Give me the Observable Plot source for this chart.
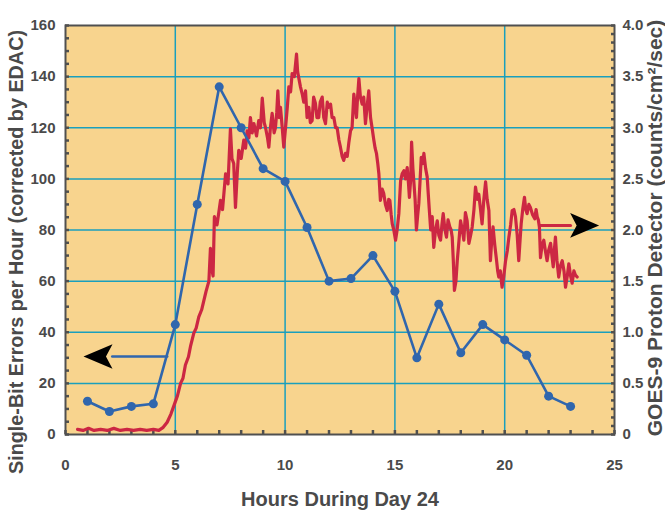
<!DOCTYPE html>
<html>
<head>
<meta charset="utf-8">
<script src="https://cdn.jsdelivr.net/npm/d3@7"></script>
<script src="https://cdn.jsdelivr.net/npm/@observablehq/plot@0.6"></script>
<style>
  html, body { margin: 0; padding: 0; background: #ffffff; }
  #chart svg { display: block; }
</style>
</head>
<body>
<div id="chart"></div>
<script>
// Hourly single-bit error counts (left axis)
const hours = [1, 2, 3, 4, 5, 6, 7, 8, 9, 10, 11, 12, 13, 14, 15, 16, 17, 18, 19, 20, 21, 22, 23];
const errors = [13, 9, 11, 12, 43, 90, 136, 120, 104, 99, 81, 60, 61, 70, 56, 30, 51, 32, 43, 37, 31, 15, 11];

// GOES-9 proton flux (right axis, counts/cm²/sec)
const protonTime = [
  0.55, 0.8, 1.05, 1.3, 1.6, 1.9, 2.2, 2.5, 2.8, 3.1, 3.4, 3.7, 4.0, 4.25, 4.45, 4.63, 4.8, 4.95,
  5.1, 5.24, 5.35, 5.46, 5.6, 5.7, 5.84, 5.95, 6.07, 6.2, 6.3, 6.4, 6.53, 6.6, 6.66, 6.72, 6.78, 6.9,
  7.06, 7.15, 7.29, 7.4, 7.51, 7.58, 7.66, 7.74, 7.82, 7.89, 8.0, 8.12, 8.2, 8.27, 8.35, 8.42, 8.5,
  8.58, 8.7, 8.8, 8.88, 8.96, 9.05, 9.11, 9.2, 9.26, 9.33, 9.41, 9.5, 9.56, 9.62, 9.67, 9.73, 9.79,
  9.87, 9.94, 10.02, 10.1, 10.17, 10.25, 10.32, 10.42, 10.52, 10.57, 10.62, 10.7, 10.78, 10.85,
  10.93, 11.0, 11.08, 11.15, 11.23, 11.3, 11.38, 11.45, 11.53, 11.6, 11.69, 11.76, 11.84, 11.92,
  11.99, 12.07, 12.14, 12.22, 12.3, 12.37, 12.45, 12.52, 12.6, 12.67, 12.75, 12.83, 12.9, 12.98,
  13.05, 13.13, 13.2, 13.25, 13.3, 13.36, 13.43, 13.51, 13.58, 13.66, 13.73, 13.81, 13.89, 13.96,
  14.04, 14.1, 14.16, 14.22, 14.27, 14.34, 14.42, 14.49, 14.57, 14.65, 14.72, 14.77, 14.83, 14.88,
  14.95, 15.03, 15.1, 15.18, 15.26, 15.33, 15.41, 15.48, 15.56, 15.62, 15.66, 15.72, 15.76, 15.82,
  15.86, 15.92, 15.98, 16.04, 16.09, 16.15, 16.2, 16.27, 16.32, 16.4, 16.47, 16.52, 16.56, 16.63,
  16.7, 16.77, 16.85, 16.93, 17.0, 17.08, 17.14, 17.2, 17.28, 17.35, 17.42, 17.5, 17.56, 17.61,
  17.66, 17.71, 17.78, 17.84, 17.92, 17.99, 18.07, 18.14, 18.21, 18.29, 18.37, 18.45, 18.52, 18.6,
  18.67, 18.75, 18.82, 18.9, 18.97, 19.05, 19.13, 19.2, 19.28, 19.35, 19.41, 19.47, 19.55, 19.63,
  19.68, 19.73, 19.8, 19.88, 19.96, 20.04, 20.12, 20.19, 20.27, 20.34, 20.42, 20.49, 20.57, 20.64,
  20.7, 20.75, 20.82, 20.9, 20.96, 21.02, 21.1, 21.17, 21.27, 21.37, 21.43, 21.48, 21.53, 21.58,
  21.63, 21.7, 21.78, 21.85, 21.93, 22.0, 22.09, 22.15, 22.21, 22.26, 22.31, 22.38, 22.46, 22.54,
  22.62, 22.7, 22.77, 22.85, 22.92, 23.0, 23.07, 23.15, 23.22, 23.3
];
const protonFlux = [
  0.05, 0.04, 0.06, 0.04, 0.05, 0.04, 0.06, 0.04, 0.05, 0.04, 0.05, 0.04, 0.05, 0.04, 0.07, 0.12, 0.2, 0.29,
  0.38, 0.5, 0.55, 0.68, 0.76, 0.87, 0.99, 1.04, 1.15, 1.22, 1.31, 1.4, 1.5, 1.82, 1.62, 1.55, 2.13, 2.05,
  2.29, 2.2, 2.55, 2.45, 2.99, 2.7, 2.65, 2.22, 2.55, 2.78, 2.7, 2.88, 2.8, 2.97, 2.9, 3.1, 2.95,
  3.04, 2.92, 3.07, 3.0, 3.29, 3.05, 3.0, 2.9, 2.81, 3.0, 3.14, 2.95, 3.0, 3.15, 3.36, 3.1, 3.2,
  3.0, 2.81, 3.0, 3.2, 3.4, 3.35, 3.53, 3.5, 3.72, 3.55, 3.49, 3.4, 3.33, 3.25,
  3.36, 3.1, 3.2, 3.05, 3.07, 3.3, 3.24, 3.1, 3.1, 3.25, 3.3, 3.1, 3.04, 3.25,
  3.2, 3.23, 3.1, 3.1, 3.0, 3.0, 2.88, 2.81, 2.72, 2.68, 2.75, 2.72, 2.85, 2.97,
  3.0, 3.33, 3.2, 3.1, 3.3, 3.48, 3.3, 3.23, 3.3, 3.04, 3.2, 3.36, 3.1, 3.0,
  2.88, 2.8, 2.75, 2.65, 2.55, 2.29, 2.4, 2.36, 2.25, 2.19, 2.3, 2.29, 2.15, 2.06,
  2.0, 1.9, 2.0, 2.16, 2.48, 2.55, 2.58, 2.5, 2.61, 2.45, 2.32, 2.5, 2.86, 2.6,
  2.48, 2.3, 2.0, 2.15, 2.26, 2.5, 2.71, 2.65, 2.75, 2.6, 2.52, 2.35, 2.22, 2.0,
  2.13, 1.83, 2.0, 2.09, 1.95, 1.9, 2.05, 2.16, 2.0, 1.93, 2.1, 2.03, 2.0, 1.93,
  1.7, 1.41, 1.5, 1.7, 1.9, 2.09, 2.0, 1.9, 2.17, 2.09, 1.87, 1.95, 2.03, 2.2,
  2.42, 2.3, 2.35, 2.2, 2.06, 2.3, 2.47, 2.3, 2.19, 1.7, 1.9, 2.03, 1.85, 1.7,
  1.6, 1.54, 1.6, 1.44, 1.55, 1.7, 1.8, 1.93, 2.05, 2.19, 2.2, 2.13, 1.95, 1.7,
  1.9, 2.06, 2.2, 2.32, 2.2, 2.16, 2.25, 2.22, 2.15, 2.11, 2.2, 2.13, 2.1, 2.03,
  1.73, 1.85, 1.9, 1.8, 1.7, 1.8, 1.87, 1.75, 1.64, 1.8, 1.93, 1.7, 1.54, 1.65,
  1.7, 1.6, 1.44, 1.55, 1.67, 1.55, 1.48, 1.6, 1.56, 1.54
];

// Axis ticks
const xTicks = [0, 5, 10, 15, 20, 25];
const leftTicks = [0, 20, 40, 60, 80, 100, 120, 140, 160];
const rightTicks = [0, 0.5, 1.0, 1.5, 2.0, 2.5, 3.0, 3.5, 4.0];
const xGrid = [5, 10, 15, 20];
const yGrid = [20, 40, 60, 80, 100, 120, 140];

// Pointer arrows telling which axis each series belongs to
const leftArrowShaft = {x: [2.13, 4.63], errors: 30.5};
const leftArrowHead = {x: 1.48, errors: 30.5};
const rightArrowShaft = {x: [21.6, 23.0], flux: 2.045};
const rightArrowHead = {x: 23.64, flux: 2.045};

// Right scale is mapped onto the left one: 4.0 counts ⇔ 160 errors
const k = 160 / 4;

const axisColor = "#505050";
const textColor = "#4a4a4a";
const gridColor = "#1a9fbd";
const blue = "#3066ad";
const red = "#cc2743";

// A dart-shaped arrowhead pointing to +x
const dart = {
  draw(context, size) {
    const s = Math.sqrt(size / Math.PI);
    context.moveTo(s, 0);
    context.lineTo(-s, -0.85 * s);
    context.lineTo(-0.55 * s, 0);
    context.lineTo(-s, 0.85 * s);
    context.closePath();
  }
};

const fmtRight = d => (d === 0 ? "0" : d3.format(".1f")(d / k));

const chart = Plot.plot({
  width: 665,
  height: 514,
  marginLeft: 65,
  marginRight: 51,
  marginTop: 25,
  marginBottom: 80,
  style: {
    fontFamily: "'Liberation Sans Narrow', 'Arial Narrow', 'Liberation Sans', sans-serif",
    fontWeight: "bold",
    fontSize: "15px",
    color: textColor,
    background: "#ffffff",
    overflow: "hidden"
  },
  x: {domain: [0, 25]},
  y: {domain: [0, 160]},
  marks: [
    Plot.frame({fill: "#f8d48e", stroke: null}),
    Plot.ruleX(xGrid, {stroke: gridColor, strokeWidth: 1.5}),
    Plot.ruleY(yGrid, {stroke: gridColor, strokeWidth: 1.5}),

    // axes: labels
    Plot.axisX({ticks: xTicks, tickSize: 0, tickPadding: 25, tickFormat: d => String(d), label: null, fill: textColor}),
    Plot.axisY({anchor: "left", ticks: leftTicks, tickSize: 0, tickPadding: 10, tickFormat: d => String(d), label: null, fill: textColor}),
    Plot.axisY({anchor: "right", ticks: rightTicks.map(d => d * k), tickSize: 0, tickPadding: 8, tickFormat: fmtRight, label: null, fill: textColor}),

    // axes: inward minor ticks
    Plot.axisX({ticks: d3.range(0, 26, 1), tickSize: -4, text: null, label: null, stroke: axisColor, strokeWidth: 2.5}),
    Plot.axisY({anchor: "left", ticks: d3.range(0, 161, 5), tickSize: -4, text: null, label: null, stroke: axisColor, strokeWidth: 2.5}),
    Plot.axisY({anchor: "right", ticks: d3.range(0, 4.001, 1 / 12).map(d => d * k), tickSize: -4, text: null, label: null, stroke: axisColor, strokeWidth: 2.5}),

    Plot.frame({stroke: axisColor, strokeWidth: 2}),

    // proton flux
    Plot.line(protonFlux, {
      x: (d, i) => protonTime[i], y: d => d * k,
      stroke: red, strokeWidth: 3.2, strokeLinejoin: "round"
    }),

    // single-bit errors
    Plot.line(errors, {x: (d, i) => hours[i], y: d => d, stroke: blue, strokeWidth: 2.6}),
    Plot.dot(errors, {x: (d, i) => hours[i], y: d => d, fill: blue, r: 4.5, symbol: "circle"}),

    // arrows
    Plot.line(leftArrowShaft.x, {x: d => d, y: () => leftArrowShaft.errors, stroke: blue, strokeWidth: 2.6}),
    Plot.dot([leftArrowHead], {x: "x", y: "errors", symbol: dart, r: 14.5, fill: "black", rotate: 180}),
    Plot.line(rightArrowShaft.x, {x: d => d, y: () => rightArrowShaft.flux * k, stroke: red, strokeWidth: 3}),
    Plot.dot([rightArrowHead], {x: "x", y: d => d.flux * k, symbol: dart, r: 14.5, fill: "black"}),

    // axis titles
    Plot.text(["Hours During Day 24"], {frameAnchor: "bottom", lineAnchor: "middle", dy: 65, fontSize: 20, fill: textColor}),
    Plot.text(["Single-Bit Errors per Hour (corrected by EDAC)"], {
      frameAnchor: "left", textAnchor: "middle", rotate: -90, dx: -49, dy: 22, fontSize: 19.8, fill: textColor,
      fontFamily: "'Liberation Sans', Arial, sans-serif"
    }),
    Plot.text(["GOES-9 Proton Detector (counts/cm²/sec)"], {
      frameAnchor: "right", textAnchor: "middle", rotate: -90, dx: 41, dy: -2, fontSize: 21, fill: textColor,
      fontFamily: "'Liberation Sans', Arial, sans-serif"
    })
  ]
});

document.getElementById("chart").appendChild(chart);
</script>
</body>
</html>
